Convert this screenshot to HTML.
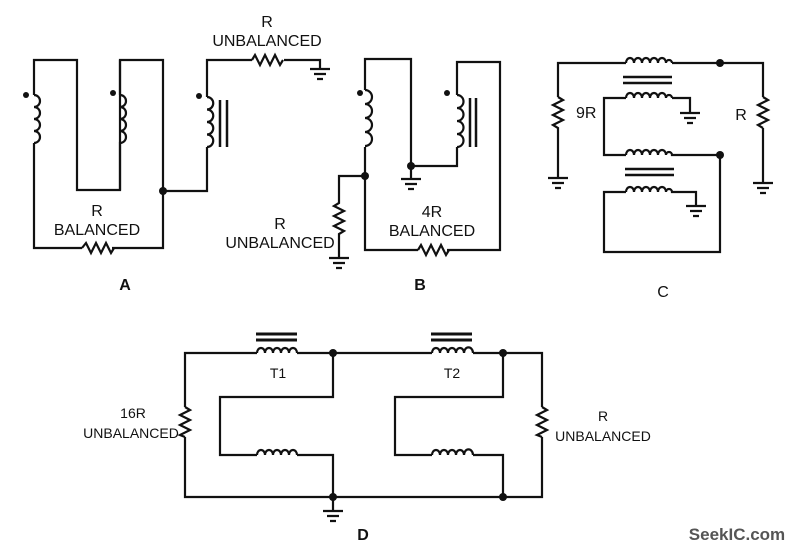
<!DOCTYPE html>
<html><head><meta charset="utf-8"><style>
body{margin:0;background:#fff}
svg{display:block}
text{font-family:"Liberation Sans",Arial,sans-serif;font-size:16px;fill:#111}
.s{font-size:14px}
</style></head><body>
<svg width="798" height="554" viewBox="0 0 798 554" xmlns="http://www.w3.org/2000/svg">
<g fill="none" stroke="#111" stroke-width="2.2">
<!-- A -->
<path d="M34 95 V60 H77 V190 H120 V60 H163 V248 H112 M82 248 H34 V143"/>
<path d="M34 95 a6 6 0 0 1 0 12 a6 6 0 0 1 0 12 a6 6 0 0 1 0 12 a6 6 0 0 1 0 12"/>
<path d="M120 95 V60 M120 95 a6 6 0 0 1 0 12 a6 6 0 0 1 0 12 a6 6 0 0 1 0 12 a6 6 0 0 1 0 12 V190"/>
<path d="M82 248 l4 -5 l5 10 l5 -10 l5 10 l5 -10 l5 10 l3 -5"/>
<path d="M163 191 H207 V147 M207 97 V60 H252 M284 60 H320 V68"/>
<path d="M207 97 a6 6 0 0 1 0 12.5 a6 6 0 0 1 0 12.5 a6 6 0 0 1 0 12.5 a6 6 0 0 1 0 12.5"/>
<path d="M252 60 l3 -5 l5 10 l5 -10 l5 10 l5 -10 l5 10 l3 -5" />
<path d="M310 69 H330 M314 74 H326 M317 79 H323"/>
<path d="M220 100 V147 M227 100 V147" stroke-width="2.5"/>
<!-- B -->
<path d="M365 90 V59 H411 V166 H457 V147 M457 95 V62 H500 V250 H447 M418 250 H365 V147"/>
<path d="M365 90 a6 6 0 0 1 0 14 a6 6 0 0 1 0 14 a6 6 0 0 1 0 14 a6 6 0 0 1 0 14"/>
<path d="M457 95 a6 6 0 0 1 0 13 a6 6 0 0 1 0 13 a6 6 0 0 1 0 13 a6 6 0 0 1 0 13"/>
<path d="M470 98 V147 M476 98 V147" stroke-width="2.5"/>
<path d="M418 250 l3 -5 l5 10 l5 -10 l5 10 l5 -10 l5 10 l3 -5"/>
<path d="M411 166 V178 M401 179 H421 M405 184 H417 M408 189 H414"/>
<path d="M365 176 H339 V203 l-5 3 l10 5 l-10 5 l10 5 l-10 5 l10 5 l-5 3 V257 M329 258 H349 M333 263 H345 M336 268 H342"/>
<!-- C -->
<path d="M558 97 V63 H626 M672 63 H720 H763 V97 M763 128 V182 M753 183 H773 M757 188 H769 M760 193 H766"/>
<path d="M626 63 a4 5 0 0 1 8 0 a4 5 0 0 1 8 -0 a4 5 0 0 1 8 0 a4 5 0 0 1 8 0 a4 5 0 0 1 8 0 a3 3 0 0 1 6 0"/>
<path d="M558 97 l5 3 l-10 5 l10 5 l-10 5 l10 5 l-10 5 l5 3 V178 M548 178 H568 M552 183 H564 M555 188 H561"/>
<path d="M763 97 l5 3 l-10 5 l10 5 l-10 5 l10 5 l-10 5 l5 3"/>
<path d="M623 77 H672 M623 83 H672 M625 169 H674 M625 175 H674" stroke-width="2.5"/>
<path d="M626 98 H604 V155 H626 M672 98 H690 V112 M680 113 H700 M684 118 H696 M687 123 H693"/>
<path d="M626 98 a4 5 0 0 1 8 0 a4 5 0 0 1 8 0 a4 5 0 0 1 8 0 a4 5 0 0 1 8 0 a4 5 0 0 1 8 0 a3 3 0 0 1 6 0"/>
<path d="M626 155 a4 5 0 0 1 8 0 a4 5 0 0 1 8 0 a4 5 0 0 1 8 0 a4 5 0 0 1 8 0 a4 5 0 0 1 8 0 a3 3 0 0 1 6 0 H720 V252 H604 V192 H626"/>
<path d="M626 192 a4 5 0 0 1 8 0 a4 5 0 0 1 8 0 a4 5 0 0 1 8 0 a4 5 0 0 1 8 0 a4 5 0 0 1 8 0 a3 3 0 0 1 6 0 H696 V205 M686 206 H706 M690 211 H702 M693 216 H699"/>
<!-- D -->
<path d="M257 353 H185 V407 M185 437 V497 H542 V437 M542 407 V353 H503 M473 353 H503 M333 353 H432 M297 353 H333"/>
<path d="M185 407 l5 3 l-10 5 l10 5 l-10 5 l10 5 l-10 5 l5 2"/>
<path d="M542 407 l5 3 l-10 5 l10 5 l-10 5 l10 5 l-10 5 l5 2"/>
<path d="M257 353 a4 5 0 0 1 8 0 a4 5 0 0 1 8 0 a4 5 0 0 1 8 0 a4 5 0 0 1 8 0 a4 5 0 0 1 8 0"/>
<path d="M432 353 a4 5 0 0 1 8 0 a4 5 0 0 1 8 0 a4 5 0 0 1 8 0 a4 5 0 0 1 8 0 a4 5 0 0 1 9 0"/>
<path d="M256 334 H297 M256 340 H297 M431 334 H472 M431 340 H472" stroke-width="3"/>
<path d="M333 353 V397 H220 V455 H257 M297 455 H333 V497 V510 M323 511 H343 M327 516 H339 M330 521 H336"/>
<path d="M257 455 a4 5 0 0 1 8 0 a4 5 0 0 1 8 0 a4 5 0 0 1 8 0 a4 5 0 0 1 8 0 a4 5 0 0 1 8 0"/>
<path d="M503 353 V397 H395 V455 H432 M473 455 H503 V497"/>
<path d="M432 455 a4 5 0 0 1 8 0 a4 5 0 0 1 8 0 a4 5 0 0 1 8 0 a4 5 0 0 1 8 0 a4 5 0 0 1 9 0"/>
</g>
<g fill="#111">
<circle cx="26" cy="95" r="3"/><circle cx="113" cy="93" r="3"/><circle cx="199" cy="96" r="3"/>
<circle cx="163" cy="191" r="4"/>
<circle cx="360" cy="93" r="3"/><circle cx="447" cy="93" r="3"/>
<circle cx="411" cy="166" r="4"/><circle cx="365" cy="176" r="4"/>
<circle cx="720" cy="63" r="4"/><circle cx="720" cy="155" r="4"/>
<circle cx="333" cy="353" r="4"/><circle cx="503" cy="353" r="4"/>
<circle cx="333" cy="497" r="4"/><circle cx="503" cy="497" r="4"/>
</g>
<g text-anchor="middle">
<text x="267" y="27">R</text><text x="267" y="46">UNBALANCED</text>
<text x="97" y="216">R</text><text x="97" y="235">BALANCED</text>
<text x="280" y="229">R</text><text x="280" y="248">UNBALANCED</text>
<text x="432" y="217">4R</text><text x="432" y="236">BALANCED</text>
<text x="576" y="118" text-anchor="start">9R</text>
<text x="741" y="120">R</text>
<text x="278" y="378" class="s">T1</text><text x="452" y="378" class="s">T2</text>
<text x="133" y="418" class="s">16R</text><text x="131" y="438" class="s">UNBALANCED</text>
<text x="603" y="421" class="s">R</text><text x="603" y="441" class="s">UNBALANCED</text>
<text x="125" y="290" font-weight="bold">A</text>
<text x="420" y="290" font-weight="bold">B</text>
<text x="663" y="297">C</text>
<text x="363" y="540" font-weight="bold">D</text>
<text x="737" y="540" font-weight="bold" style="fill:#555;font-size:17px">SeekIC.com</text>
</g>
</svg>
</body></html>
